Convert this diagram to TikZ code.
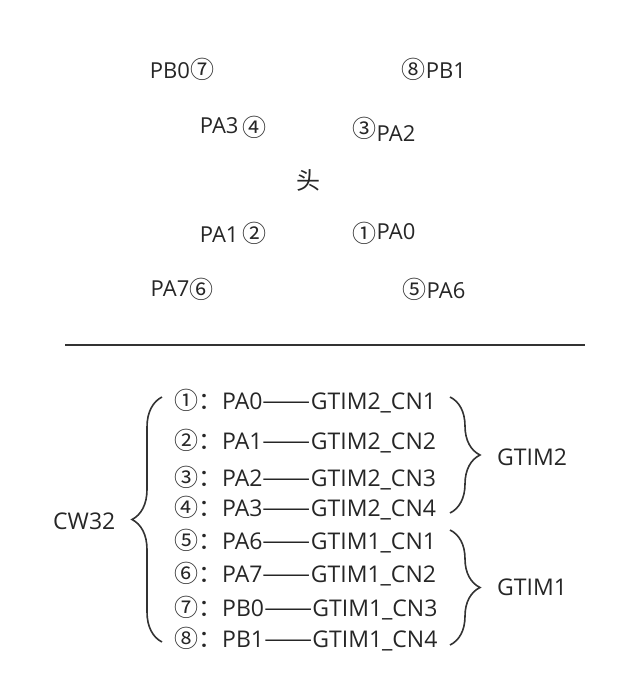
\documentclass[tikz,border=0pt]{standalone}
\usepackage{fontspec}
\setmainfont{Open Sans}
\newfontfamily\cjk{Noto Sans CJK SC}
\newcommand\cn[1]{{\cjk\fontsize{24}{28}\selectfont #1}}
\newcommand\dashes{\scalebox{1.2}[1]{\cn{——}}}
\usepackage{tikz}
\usetikzlibrary{decorations.pathreplacing,positioning}

\begin{document}
\begin{tikzpicture}[x=1pt, y=-1pt,
  font=\fontsize{23}{28}\selectfont,
  pin/.style={inner sep=0pt, text=black!85, font=\fontsize{22}{26}\selectfont},
  row/.style={anchor=west, inner sep=0pt, text=black!85},
  grp/.style={anchor=west, inner sep=0pt, text=black!85},
  brc/.style={decorate, decoration={brace, amplitude=30pt}, line width=1.6pt, black!80},
]
\useasboundingbox (0,0) rectangle (632,690);

% Pin map (top view)
\node[pin] (pb0) at (182,69) {PB0\cn{⑦}};
\node[pin] (pb1) at (434,69) {\cn{⑧}PB1};
\node[pin] (pa3) at (233,127) {\raisebox{3pt}{PA3}\,\cn{④}};
\node[pin] (pa2) at (384,129) {\raisebox{4pt}{\cn{③}}PA2};
\node[pin] (head) at (308,180) {\cn{头}};
\node[pin] (pa1) at (233,233) {PA1\,\cn{②}};
\node[pin] (pa0) at (384,233) {\raisebox{-3pt}{\cn{①}}PA0};
\node[pin] (pa7) at (182,289) {\raisebox{2pt}{PA7}\cn{⑥}};
\node[pin] (pa6) at (434,289) {\cn{⑤}PA6};

% Divider
\draw[line width=1.5pt, black!80] (65,345) -- (585,345);

% Pin list
\node[row] (r1) at (174,401) {\cn{①：}PA0\dashes GTIM2\_CN1};
\node[row] (r2) at (174,441) {\cn{②：}PA1\dashes GTIM2\_CN2};
\node[row] (r3) at (174,478) {\cn{③：}PA2\dashes GTIM2\_CN3};
\node[row] (r4) at (174,508) {\cn{④：}PA3\dashes GTIM2\_CN4};
\node[row] (r5) at (174,541) {\cn{⑤：}PA6\dashes GTIM1\_CN1};
\node[row] (r6) at (174,574) {\cn{⑥：}PA7\dashes GTIM1\_CN2};
\node[row] (r7) at (174,608) {\cn{⑦：}PB0\dashes GTIM1\_CN3};
\node[row] (r8) at (174,639) {\cn{⑧：}PB1\dashes GTIM1\_CN4};

% Groups
\node[grp] (cw) at (53,521) {CW32};
\node[grp] (g2) at (497,457) {GTIM2};
\node[grp] (g1) at (497,587) {GTIM1};

% Braces
\coordinate (lbot) at (162,642);
\coordinate (ltop) at (162,397);
\coordinate (g2top) at (450,397);
\coordinate (g2bot) at (450,513);
\coordinate (g1top) at (450,530);
\coordinate (g1bot) at (450,645);
\draw[brc] (lbot) -- (ltop);
\draw[brc] (g2top) -- (g2bot);
\draw[brc] (g1top) -- (g1bot);
\end{tikzpicture}
\end{document}
